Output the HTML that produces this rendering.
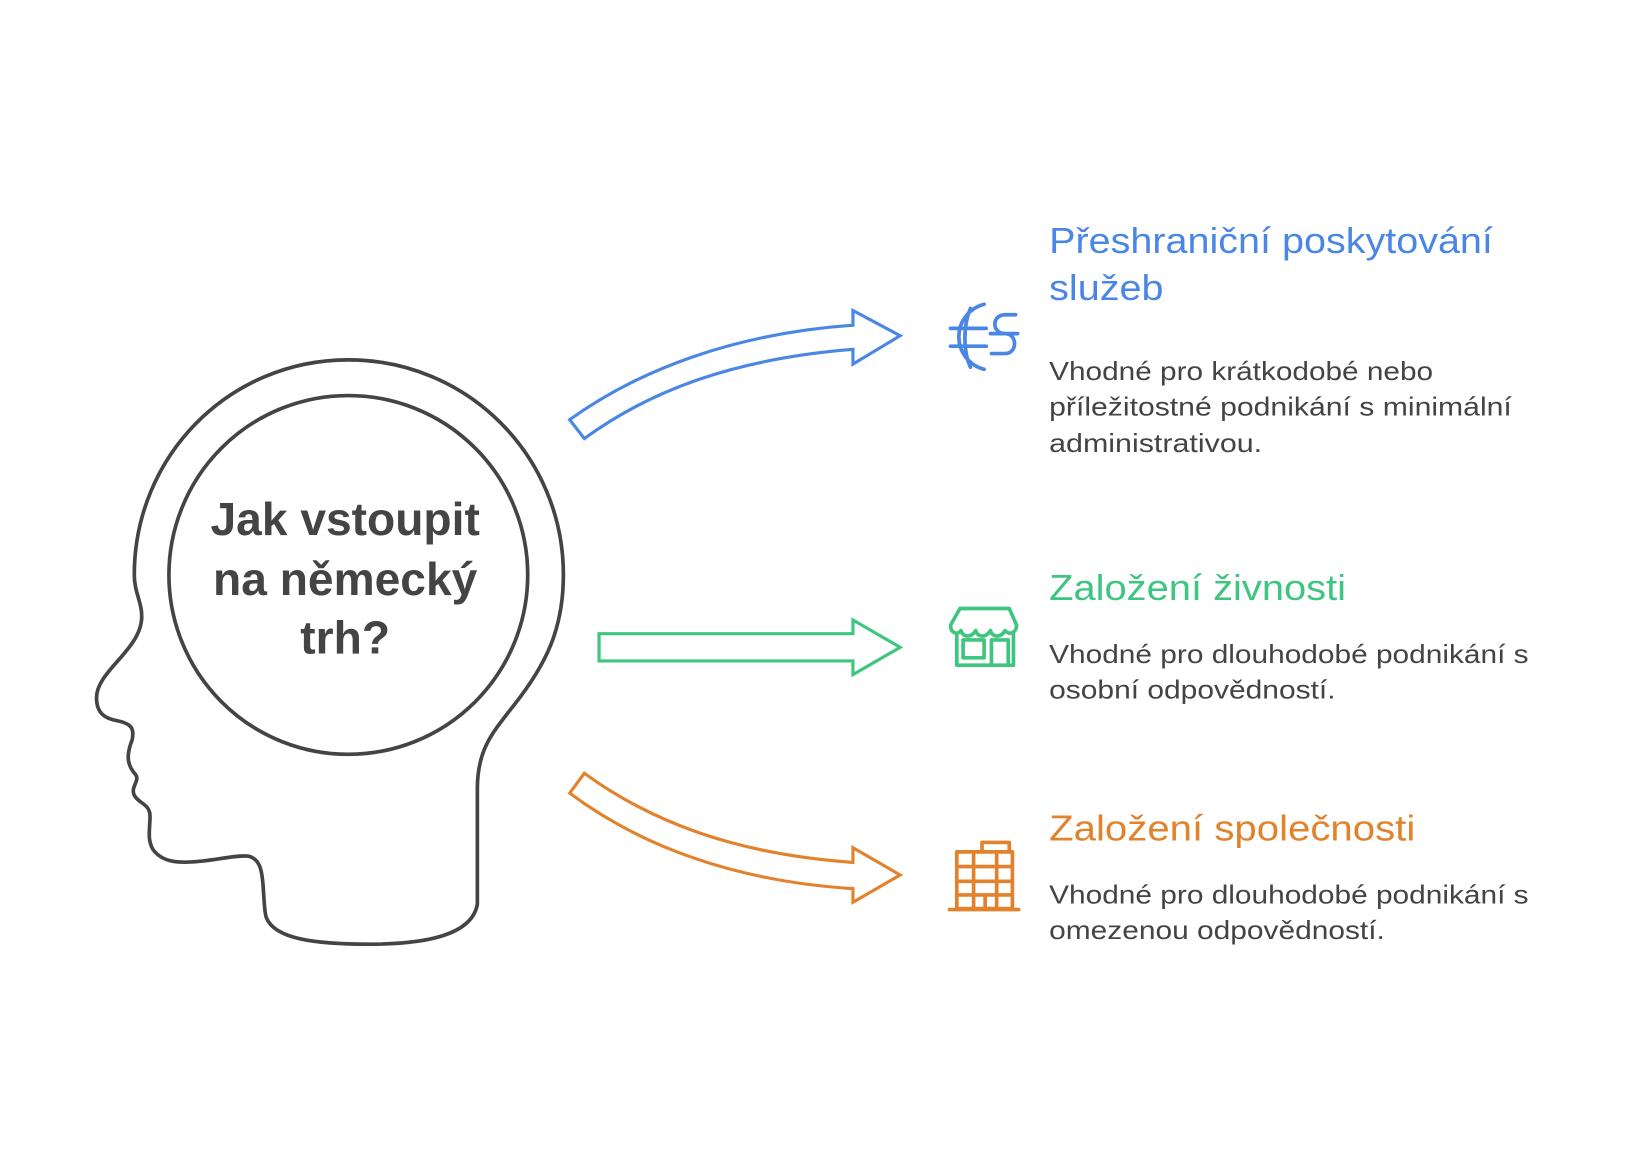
<!DOCTYPE html>
<html><head><meta charset="utf-8"><style>
html,body{margin:0;padding:0;background:#fff;}
svg{display:block;}
text{font-family:"Liberation Sans",sans-serif;}
</style></head><body>
<svg width="1644" height="1153" viewBox="0 0 1567 1099" preserveAspectRatio="none" xmlns="http://www.w3.org/2000/svg">
<rect width="1567" height="1099" fill="#fff"/>
<!-- head -->
<path d="M455,862 L455,752 C455,715 468,700 490,672 C520,634 537,600 537,548 C537,435 446,343 332,343 C218,343 128,435 128,548 C128,565 136,575 135,590 C133,620 92,640 92,665 C92,680 100,685 112,687 C126,690 128,695 126,705 C121,718 120,728 129,738 C134,744 124,750 128,758 C132,766 143,766 143,778 C143,790 140,800 146,810 C155,822 170,823 190,821 C210,819 225,815 236,816 C248,818 250,830 251,848 C252,860 252,870 254,875 C262,895 300,900 352,900 C410,900 450,890 455,862 Z" fill="none" stroke="#444" stroke-width="3.5" stroke-linejoin="round"/>
<circle cx="332" cy="548" r="171" fill="none" stroke="#444" stroke-width="3.5"/>
<g font-weight="bold" font-size="44" fill="#444" text-anchor="middle">
<text x="329" y="510">Jak vstoupit</text>
<text x="329" y="567">na německý</text>
<text x="329" y="623">trh?</text>
</g>
<!-- arrows -->
<path d="M543,400 C610,352 700,318 813,310 L813,296 L858,320 L813,347 L813,333 C700,342 620,372 557,418 Z" fill="#fff" stroke="#4a86e4" stroke-width="3" stroke-linejoin="miter"/>
<path d="M571,604 L813,604 L813,591 L858,617 L813,643 L813,630 L571,630 Z" fill="#fff" stroke="#3ec57f" stroke-width="3"/>
<path d="M557,737 C620,783 700,814 813,822 L813,808 L858,834 L813,860 L813,847 C700,840 610,806 543,756 Z" fill="#fff" stroke="#e2822c" stroke-width="3"/>
<!-- globe icon -->
<g fill="none" stroke="#4a86e4" stroke-width="3.5" stroke-linecap="round">
<path d="M938,290 A32,32 0 0 0 938,352"/>
<path d="M925,294 C918,310 918,335 925,350"/>
<line x1="906" y1="313" x2="940" y2="313"/>
<line x1="906" y1="330" x2="940" y2="330"/>
<path d="M968,300 L958,300 C945,300 945,318 958,318 C970,318 970,337 958,337 L945,337"/>
<line x1="944" y1="318" x2="970" y2="318"/>
</g>
<!-- store icon -->
<g fill="none" stroke="#3ec57f" stroke-width="3.5" stroke-linejoin="round" stroke-linecap="round">
<path d="M915,580 L962,580 L969,596 C969,603 962,606 958,601 C954,608 946,608 944,601 C940,608 932,608 930,601 C926,608 918,608 916,601 C912,606 906,603 906,596 Z"/>
<path d="M912,604 L912,634 L966,634 L966,604"/>
<rect x="918" y="610" width="20" height="17"/>
<path d="M945,634 L945,610 L961,610 L961,634"/>
</g>
<!-- building icon -->
<g fill="none" stroke="#e2822c" stroke-width="3.5" stroke-linejoin="round">
<rect x="912" y="812" width="53" height="54"/>
<path d="M936,812 L936,803 L962,803 L962,812"/>
<line x1="928" y1="812" x2="928" y2="866"/>
<line x1="950" y1="812" x2="950" y2="866"/>
<line x1="939" y1="853" x2="939" y2="866"/>
<line x1="912" y1="826" x2="965" y2="826"/>
<line x1="912" y1="840" x2="965" y2="840"/>
<line x1="912" y1="853" x2="965" y2="853"/>
<line x1="905" y1="867" x2="971" y2="867" stroke-linecap="round"/>
</g>
<!-- texts -->
<g font-size="34">
<text x="1000" y="241" fill="#4a86e4" textLength="423" lengthAdjust="spacingAndGlyphs">Přeshraniční poskytování</text>
<text x="1000" y="286" fill="#4a86e4" textLength="109" lengthAdjust="spacingAndGlyphs">služeb</text>
<text x="1000" y="572" fill="#3ec57f" textLength="283" lengthAdjust="spacingAndGlyphs">Založení živnosti</text>
<text x="1000" y="801" fill="#e2822c" textLength="349" lengthAdjust="spacingAndGlyphs">Založení společnosti</text>
</g>
<g font-size="25" fill="#444">
<text x="1000" y="362" textLength="366" lengthAdjust="spacingAndGlyphs">Vhodné pro krátkodobé nebo</text>
<text x="1000" y="396" textLength="441" lengthAdjust="spacingAndGlyphs">příležitostné podnikání s minimální</text>
<text x="1000" y="431" textLength="203" lengthAdjust="spacingAndGlyphs">administrativou.</text>
<text x="1000" y="632" textLength="457" lengthAdjust="spacingAndGlyphs">Vhodné pro dlouhodobé podnikání s</text>
<text x="1000" y="666" textLength="273" lengthAdjust="spacingAndGlyphs">osobní odpovědností.</text>
<text x="1000" y="861" textLength="457" lengthAdjust="spacingAndGlyphs">Vhodné pro dlouhodobé podnikání s</text>
<text x="1000" y="895" textLength="320" lengthAdjust="spacingAndGlyphs">omezenou odpovědností.</text>
</g>
</svg>
</body></html>
